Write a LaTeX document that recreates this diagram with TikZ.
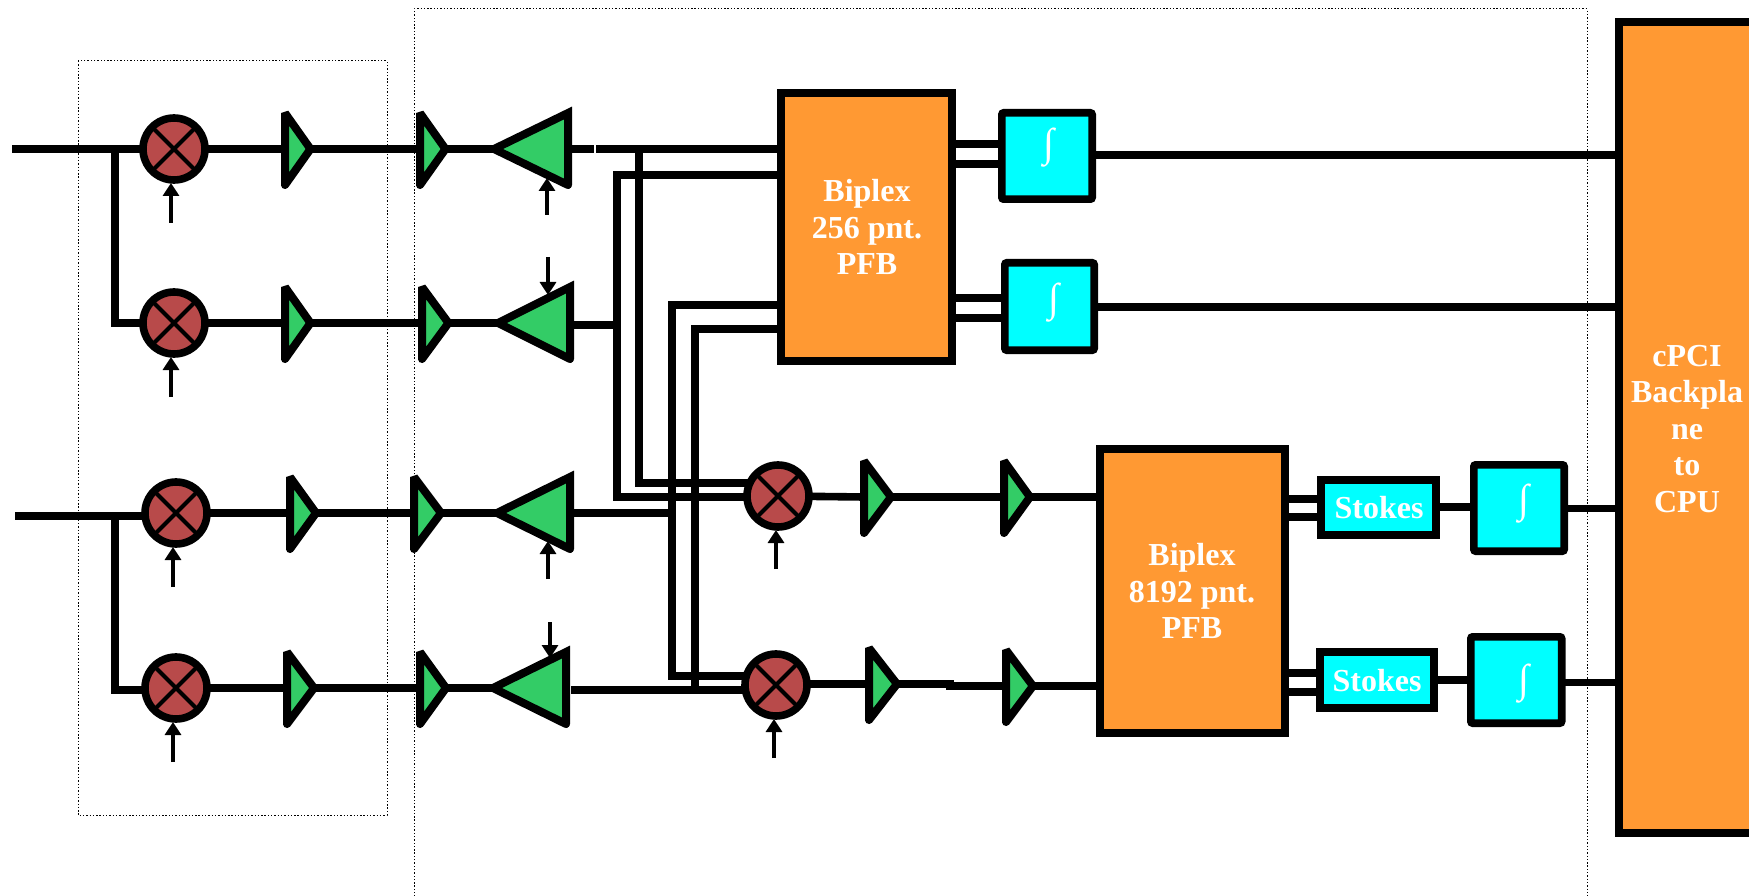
\documentclass[tikz,border=0pt]{standalone}
\usepackage{fontspec}
\setmainfont{Liberation Serif}
\usetikzlibrary{arrows.meta,backgrounds}
\definecolor{pfborange}{HTML}{FF9933}
\definecolor{intcyan}{HTML}{00FFFF}
\definecolor{mixred}{HTML}{B84A4A}
\definecolor{ampgreen}{HTML}{33CC66}
\tikzset{
  wire/.style={draw=black,line width=7.6pt,line join=miter,line cap=butt},
  dotbox/.style={draw=black,line width=1pt,dash pattern=on 1.4pt off 1.9pt},
  lobar/.style={draw=black,line width=4.4pt,-{Triangle[length=13pt,width=16pt]}},
  mixernode/.style={circle,draw=black,line width=7.6pt,fill=mixred,minimum size=62pt,inner sep=0pt,outer sep=0pt},
  crossbar/.style={draw=black,line width=4pt},
  amptri/.style={draw=black,fill=ampgreen,line width=8pt,line join=miter,miter limit=2,line cap=round},
  bigtri/.style={draw=black,fill=ampgreen,line width=8pt,line join=miter,miter limit=10,line cap=round},
  blockbase/.style={rectangle,draw=black,line width=7.6pt,inner sep=0pt,outer sep=0pt},
  pfbbox/.style={blockbase,fill=pfborange},
  cyanbox/.style={blockbase,fill=intcyan,rounded corners=2pt},
  whitetext/.style={text=white,font=\fontsize{32}{36.5}\selectfont\bfseries,align=center,inner sep=0pt},
  intglyph/.style={text=white,font=\fontsize{40}{40}\selectfont,inner sep=0pt}
}
% name, style, x1,y1,x2,y2 (outer edges), text
\newcommand{\blockat}[7]{\node[#2,minimum width={(#5-#3-7.6)*1pt},minimum height={(#6-#4-7.6)*1pt}] (#1) at ({(#3+#5)/2},{(#4+#6)/2}) {#7};}
% name, x base, x tip, y, half height, style
\newcommand{\triat}[6]{%
  \coordinate (#1-base) at (#2,#4);
  \coordinate (#1-tip) at (#3,#4);
  \draw[#6] (#2,#4+#5) -- (#3,#4) -- (#2,#4-#5) -- (#2,#4+#5);}
% name, x, y
\newcommand{\mixerat}[3]{%
  \node[mixernode] (#1) at (#2,#3) {};
  \draw[crossbar] (#1.north west) -- (#1.south east);
  \draw[crossbar] (#1.north east) -- (#1.south west);}
% name, x, y from, y to
\newcommand{\loat}[4]{%
  \coordinate (#1-from) at (#2,#3);
  \coordinate (#1-to) at (#2,#4);
  \draw[lobar] (#1-from) -- (#1-to);}
\begin{document}
\begin{tikzpicture}[x=1pt,y=-1pt]
\clip (0,0) rectangle (1749,896);
% dotted enclosures
\coordinate (d1a) at (78,61);
\coordinate (d1b) at (387,815);
\draw[dotbox] (d1a) rectangle (d1b);
\coordinate (d2a) at (414,900);
\coordinate (d2b) at (414,9);
\coordinate (d2c) at (1587,9);
\coordinate (d2d) at (1587,900);
\draw[dotbox] (d2a) -- (d2b) -- (d2c) -- (d2d);
% mixers
\mixerat{m1}{174}{149}
\mixerat{m2}{174}{323}
\mixerat{m3}{176}{513}
\mixerat{m4}{176}{688}
\mixerat{m5}{778}{496}
\mixerat{m6}{776}{685}
% small amplifiers
\triat{a1}{285}{310.5}{149}{36}{amptri}
\triat{b1}{420}{445.5}{149}{36}{amptri}
\triat{a2}{285}{310.5}{323}{36}{amptri}
\triat{b2}{422}{448.5}{323}{36}{amptri}
\triat{a3}{290}{316}{513}{36}{amptri}
\triat{b3}{414}{441}{513}{36}{amptri}
\triat{a4}{287}{314}{688}{36}{amptri}
\triat{b4}{420}{446}{688}{36}{amptri}
\triat{a5}{864}{891}{497}{36}{amptri}
\triat{a6}{1004}{1030}{497}{36}{amptri}
\triat{a7}{869}{897}{684}{36}{amptri}
\triat{a8}{1006}{1033}{686}{36}{amptri}
% large amplifiers
\triat{c1}{568}{494}{149}{36}{bigtri}
\triat{c2}{570}{498}{323}{36}{bigtri}
\triat{c3}{570}{497}{513}{36}{bigtri}
\triat{c4}{566}{493}{688}{36}{bigtri}
% PFB blocks
\blockat{pfb1}{pfbbox}{777}{89}{956}{365}{}
\node[whitetext] (pfb1t) at (867,227) {Biplex\\256 pnt.\\PFB};
\blockat{pfb2}{pfbbox}{1096}{445}{1289}{737}{}
\node[whitetext] (pfb2t) at (1192,591) {Biplex\\8192 pnt.\\PFB};
\blockat{cpci}{pfbbox}{1615}{18}{1800}{837}{}
\node[whitetext] (cpcit) at (1687,429) {cPCI\\Backpla\\ne\\to\\CPU};
% integrators
\blockat{i1}{cyanbox}{998}{109}{1096}{203}{}
\node[intglyph] (i1t) at (1049,148) {∫};
\blockat{i2}{cyanbox}{1001}{259}{1098}{354}{}
\node[intglyph] (i2t) at (1054,303) {∫};
\blockat{i3}{cyanbox}{1470}{461}{1568}{555}{}
\node[intglyph] (i3t) at (1524,504) {∫};
\blockat{i4}{cyanbox}{1467}{633}{1565.5}{727}{}
\node[intglyph] (i4t) at (1524,684) {∫};
% Stokes
\blockat{s1}{cyanbox,rounded corners=0pt}{1317}{476}{1440}{539}{}
\node[whitetext] (s1t) at (1379,508) {Stokes};
\blockat{s2}{cyanbox,rounded corners=0pt}{1316}{648}{1437.5}{712}{}
\node[whitetext] (s2t) at (1377,681) {Stokes};
% LO arrows
\loat{l1}{171}{223}{183}
\loat{l2}{171}{397}{357}
\loat{l3}{173}{587}{547}
\loat{l4}{173}{762}{722}
\loat{l5}{547}{215}{178}
\loat{l6}{548}{257}{295}
\loat{l7}{548}{579}{541}
\loat{l8}{550}{622}{658}
\loat{l9}{776}{569}{530}
\loat{l10}{774}{758}{719}
% wires behind everything
\begin{pgfonlayer}{background}
% inputs
\coordinate (in1) at (12,149);
\coordinate (in2) at (15,516);
\draw[wire] (in1) -- (m1);
\draw[wire] (in2) -- (m3.center |- 0,516);
\draw[wire] (115,149) -- (115,323) -- (m2.center |- 0,323);
\draw[wire] (115,516) -- (115,690) -- (m4.center |- 0,690);
% rows
\draw[wire] (m1) -- (a1-base);
\draw[wire] (a1-tip) -- (b1-base);
\draw[wire] (b1-tip) -- (c1-tip);
\draw[wire] (m2) -- (a2-base);
\draw[wire] (a2-tip) -- (b2-base);
\draw[wire] (b2-tip) -- (c2-tip);
\draw[wire] (m3) -- (a3-base);
\draw[wire] (a3-tip) -- (b3-base);
\draw[wire] (b3-tip) -- (c3-tip);
\draw[wire] (m4) -- (a4-base);
\draw[wire] (a4-tip) -- (b4-base);
\draw[wire] (b4-tip) -- (c4-tip);
% cross-connect
\coordinate (g1) at (594,149);
\coordinate (g2) at (596,149);
\coordinate (g3) at (571,690);
\draw[wire] (c1-base) -- (g1);
\draw[wire] (g2) -- (pfb1.west |- g2);
\draw[wire] (pfb1.west |- 0,175) -- (617,175) -- (617,497) -- (m5.center |- 0,497);
\draw[wire] (639,145.5) -- (639,483) -- (m5.center |- 0,483);
\draw[wire] (pfb1.west |- 0,305) -- (672,305) -- (672,676) -- (m6.center |- 0,676);
\draw[wire] (pfb1.west |- 0,329) -- (695,329) -- (695,693.5);
\draw[wire] (c2-base |- 0,325) -- (620.5,325);
\draw[wire] (c3-base) -- (675.5,513);
\draw[wire] (g3) -- (m6.center |- g3);
% right chain
\draw[wire] (m5.center) -- (a5-base);
\draw[wire] (a5-tip) -- (a6-base);
\draw[wire] (a6-tip) -- (pfb2.west |- a6-tip);
\draw[wire] (m6.center |- a7-tip) -- (a7-base);
\draw[wire] (a7-tip) -- (950,684) -- (950,686) -- (a8-base);
\draw[wire] (a8-tip) -- (pfb2.west |- a8-tip);
% PFB1 outputs
\draw[wire] (pfb1.east |- 0,144) -- (i1.west |- 0,144);
\draw[wire] (pfb1.east |- 0,164) -- (i1.west |- 0,164);
\draw[wire] (pfb1.east |- 0,298) -- (i2.west |- 0,298);
\draw[wire] (pfb1.east |- 0,318) -- (i2.west |- 0,318);
\draw[wire] (i1.east |- 0,155) -- (cpci.west |- 0,155);
\draw[wire] (i2.east |- 0,307) -- (cpci.west |- 0,307);
% PFB2 outputs
\draw[wire] (pfb2.east |- 0,499) -- (s1.west |- 0,499);
\draw[wire] (pfb2.east |- 0,517) -- (s1.west |- 0,517);
\draw[wire] (pfb2.east |- 0,673) -- (s2.west |- 0,673);
\draw[wire] (pfb2.east |- 0,692) -- (s2.west |- 0,692);
\draw[wire] (s1.east |- 0,507) -- (i3.west |- 0,507);
\draw[wire] (s2.east |- 0,680) -- (i4.west |- 0,680);
\draw[wire] (i3.east |- 0,508.5) -- (cpci.west |- 0,508.5);
\draw[wire] (i4.east |- 0,682.5) -- (cpci.west |- 0,682.5);
\end{pgfonlayer}
\end{tikzpicture}
\end{document}
